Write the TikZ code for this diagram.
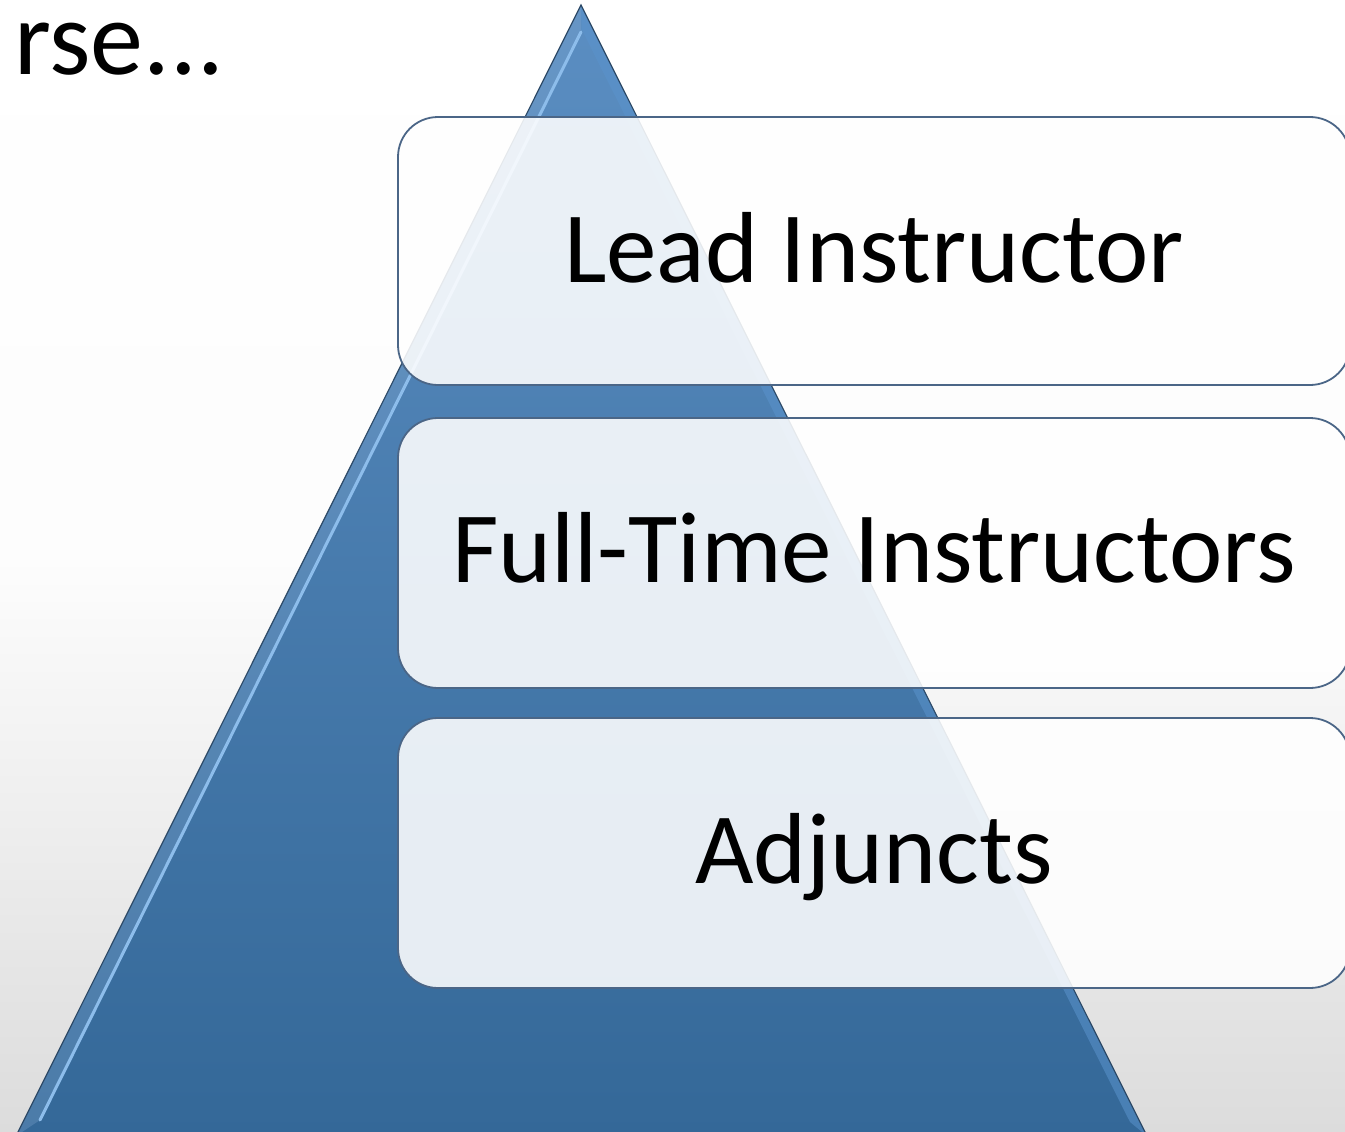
\documentclass[tikz,border=0pt]{standalone}
\usepackage{fontspec}
\setmainfont{Carlito}
\definecolor{tritop}{HTML}{5B8EC2}
\definecolor{tribot}{HTML}{346898}
\definecolor{triedge}{HTML}{2D4A68}
\definecolor{trihi}{HTML}{8DBDEB}
\definecolor{trihiR}{HTML}{5A93CC}
\definecolor{boxedge}{HTML}{4B6687}
\definecolor{bgbot}{HTML}{DCDCDC}
\begin{document}
\begin{tikzpicture}[x=1pt,y=-1pt,
  tier/.style={draw=boxedge, line width=1.8pt, rounded corners=40pt,
    fill=white, fill opacity=0.88, minimum width=952pt, inner sep=0pt},
  tierlabel/.style={anchor=base, inner sep=0pt, font=\fontsize{101}{108}\selectfont},
  titletext/.style={anchor=base west, inner sep=0pt, font=\fontsize{106}{112}\selectfont}]
  % canvas and background gradient
  \useasboundingbox (0,0) rectangle (1345,1132);
  \clip (0,0) rectangle (1345,1132);
  \shade[top color=white, bottom color=bgbot, middle color=white!93!bgbot]
    (0,0) rectangle (1345,1132);

  % heading fragment
  \node[titletext] (title) at (14,75) {rse...};

  % pyramid
  \coordinate (apex) at (581,5);
  \coordinate (bl) at (16,1136);
  \coordinate (br) at (1147,1136);
  \shade[top color=tritop, bottom color=tribot] (apex) -- (br) -- (bl) -- cycle;
  % bevel highlights along the sides
  \fill[tritop!75!white, opacity=0.3] (apex) -- (bl) -- (40,1120) -- (581,30) -- cycle;
  \draw[trihi, line width=3pt, line cap=round] (581,32) -- (40,1120);
  \fill[trihiR, opacity=0.55] (apex) -- (br) -- (1130,1122) -- (582,30) -- cycle;
  \draw[triedge, line width=1.2pt] (bl) -- (apex) -- (br);

  % tiers
  \node[tier, minimum height=268pt] (lead) at (874,251) {};
  \node[tier, minimum height=270pt] (full) at (874,553) {};
  \node[tier, minimum height=270pt] (adj)  at (874,853) {};

  \node[tierlabel] (leadtxt) at (874,282) {Lead Instructor};
  \node[tierlabel] (fulltxt) at (874,582) {Full-Time Instructors};
  \node[tierlabel] (adjtxt)  at (874,883) {Adjuncts};
\end{tikzpicture}
\end{document}
